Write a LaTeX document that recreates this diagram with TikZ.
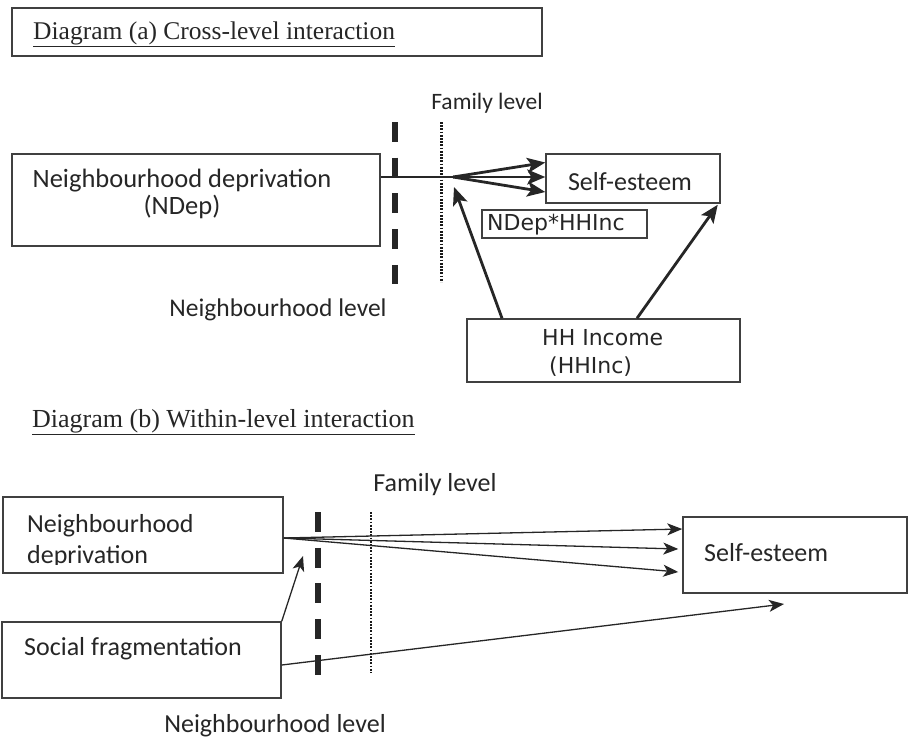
\documentclass[tikz,border=0pt]{standalone}
\usepackage{fontspec}
\setmainfont{Liberation Serif}
\newfontfamily\calfont{Carlito}
\newfontfamily\verfont{DejaVu Sans}
\usetikzlibrary{arrows.meta}

\begin{document}
\begin{tikzpicture}[x=1pt,y=-1pt,
  box/.style={draw=black!75,line width=1.5pt,inner sep=0pt},
  cal/.style={inner sep=0pt,text=black!85,font=\calfont\fontsize{26}{31}\selectfont},
  ver/.style={inner sep=0pt,text=black!85,font=\verfont\fontsize{22}{28}\selectfont},
  ttl/.style={inner sep=0pt,text=black!85,font=\fontsize{25.5}{30}\selectfont},
  nblevel/.style={black!85,line width=5.5pt,dash pattern=on 20pt off 15.7pt},
  famlevel/.style={black!90,line width=3pt,dash pattern=on 1.8pt off 1.4pt},
  thickarr/.style={black!85,line width=2.8pt,-{Stealth[length=18pt,width=15pt,inset=4pt]}},
  thinarr/.style={black!85,line width=1.3pt,-{Stealth[length=15pt,width=12pt,inset=4pt]}},
  link/.style={black!85,line width=1.3pt}]
\path[use as bounding box] (0,0) rectangle (912,742);
\node[box,minimum width=530pt,minimum height=48pt] (ttlA) at (277,32) {};
\node[ttl,anchor=base west] (ttlAtext) at (33,39) {\underline{Diagram (a) Cross-level interaction}};
\node[cal,font=\calfont\fontsize{23.5}{28}\selectfont] (famA) at (487,103) {Family level};
\node[box,minimum width=368pt,minimum height=92pt] (ndepA) at (196,200) {};
\node[cal,align=center,font=\calfont\fontsize{26.5}{27}\selectfont] (ndepAtext) at (182,193.5) {Neighbourhood deprivation\\(NDep)};
\draw[nblevel] (395,122) -- (395,284);
\draw[famlevel] (441,122) -- (441,282);
\node[cal,font=\calfont\fontsize{25.5}{30}\selectfont] (nbA) at (278,310) {Neighbourhood level};
\node[box,minimum width=174pt,minimum height=49pt] (seA) at (633,178.5) {};
\node[cal] (seAtext) at (630,182) {Self-esteem};
\coordinate (jA) at (453,177);
\draw[link] (jA -| ndepA.east) -- (jA);
\draw[thickarr] (jA) -- ([yshift=16pt]seA.west);
\draw[thickarr] (jA) -- ([yshift=1.5pt]seA.west);
\draw[thickarr] (jA) -- ([yshift=-13.5pt]seA.west);
\node[box,minimum width=165pt,minimum height=28pt] (intA) at (564.5,224) {};
\node[ver,anchor=west] (intAtext) at (487,225) {NDep*HHInc};
\node[box,minimum width=273pt,minimum height=63pt] (hhA) at (603.5,350.5) {};
\node[ver,align=left,anchor=west] (hhAtext) at (542,353) {HH Income\\\hspace*{7pt}(HHInc)};
\coordinate (tipA) at (454,187);
\draw[thickarr] ([xshift=-101.5pt]hhA.north) -- (tipA);
\draw[thickarr] ([xshift=33.5pt]hhA.north) -- ([xshift=-3pt,yshift=-1pt]seA.south east);
\node[ttl,anchor=base west,font=\fontsize{26}{30}\selectfont] (ttlBtext) at (32,427) {\underline{Diagram (b) Within-level interaction}};
\node[cal] (famB) at (435,485) {Family level};
\node[box,minimum width=280pt,minimum height=76pt] (ndB) at (143,535) {};
\node[cal,anchor=base west] (ndBtext) at (27,532) {Neighbourhood};
\begin{scope}
\clip (3,497) rectangle (283,564);
\node[cal,anchor=base west] (ndBtext2) at (27,563) {deprivation};
\end{scope}
\node[box,minimum width=279pt,minimum height=76pt] (sfB) at (141.5,660) {};
\node[cal,anchor=west] (sfBtext) at (24,649) {Social fragmentation};
\draw[nblevel] (318,512) -- (318,675);
\draw[famlevel,line width=2.4pt] (371,512) -- (371,673);
\node[cal] (nbB) at (275,726) {Neighbourhood level};
\node[box,minimum width=224pt,minimum height=76pt] (seB) at (795,555) {};
\node[cal,anchor=west] (seBtext) at (704,553) {Self-esteem};
\draw[thinarr] ([yshift=-3pt]ndB.east) -- ([yshift=26pt]seB.west);
\draw[thinarr] ([yshift=-3pt]ndB.east) -- ([xshift=-4pt,yshift=6pt]seB.west);
\draw[thinarr] ([yshift=-3pt]ndB.east) -- ([xshift=-4pt,yshift=-17pt]seB.west);
\coordinate (tipB) at (303,556);
\coordinate (tipC) at (784,604);
\draw[thinarr] (sfB.north east) -- (tipB);
\draw[thinarr] ([yshift=-5pt]sfB.east) -- (tipC);
\end{tikzpicture}
\end{document}
